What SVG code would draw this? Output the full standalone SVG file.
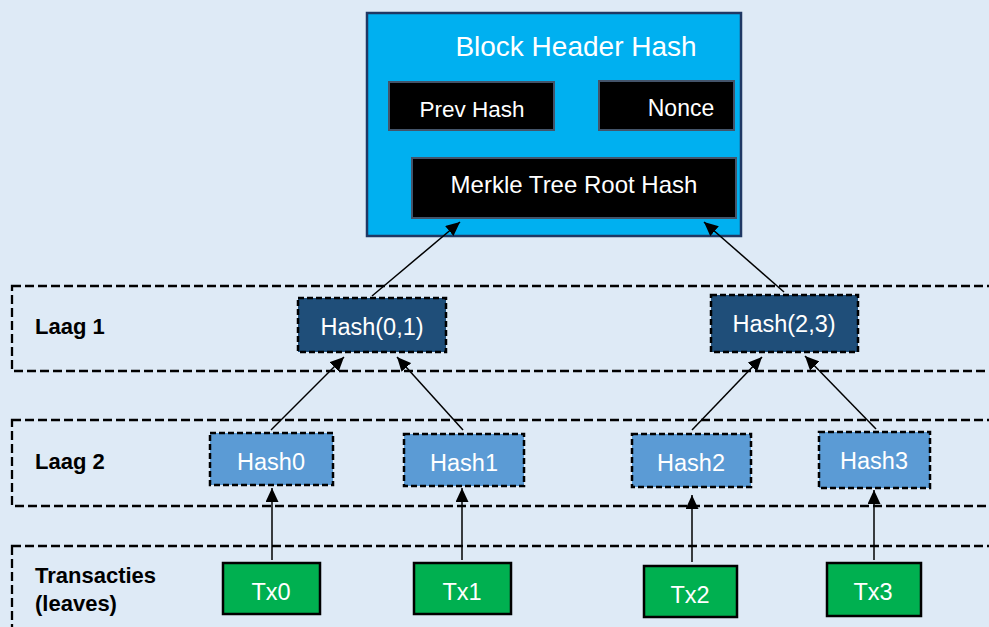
<svg xmlns="http://www.w3.org/2000/svg" width="989" height="627" viewBox="0 0 989 627">
<style>
text{font-family:"Liberation Sans",Arial,sans-serif;text-anchor:middle;fill:#fff;font-size:23.5px}
.lbl{font-weight:bold;fill:#000;text-anchor:start;font-size:22px}
.lane{fill:none;stroke:#000;stroke-width:2.3;stroke-dasharray:9 4}
.inner{fill:#000;stroke:#44546A;stroke-width:2}
.l1{fill:#1F4E79;stroke:#000;stroke-width:2.5;stroke-dasharray:6 3}
.l2{fill:#5B9BD5;stroke:#000;stroke-width:2.5;stroke-dasharray:6 3}
.tx{fill:#00B050;stroke:#000;stroke-width:2.5}
.c line{stroke:#000;stroke-width:1.5;marker-end:url(#ah)}
</style>
<defs>
<marker id="ah" viewBox="0 0 14 13" refX="14" refY="6.5" markerWidth="14" markerHeight="13" markerUnits="userSpaceOnUse" orient="auto">
<path d="M0,0L14,6.5L0,13z" fill="#000"/>
</marker>
</defs>
<rect width="989" height="627" fill="#DEEAF6"/>
<g id="lane-laag1"><rect class="lane" x="12" y="286" width="990" height="85"/><text class="lbl" x="35" y="334">Laag 1</text></g>
<g id="lane-laag2"><rect class="lane" x="12" y="420" width="990" height="86"/><text class="lbl" x="35" y="469">Laag 2</text></g>
<g id="lane-tx"><rect class="lane" x="12" y="546" width="990" height="100"/><text class="lbl" x="35" y="583">Transacties</text><text class="lbl" x="35" y="611">(leaves)</text></g>
<g id="block-header">
<rect x="367" y="13" width="374" height="223" fill="#00B0F0" stroke="#1F3864" stroke-width="2.5"/>
<text x="576" y="56" style="font-size:28px">Block Header Hash</text>
</g>
<g id="prev-hash"><rect class="inner" x="389" y="82" width="165" height="48"/><text x="472" y="117" style="font-size:22.5px">Prev Hash</text></g>
<g id="nonce"><rect class="inner" x="599" y="81" width="135" height="49"/><text x="681" y="116" style="font-size:23px">Nonce</text></g>
<g id="merkle-root"><rect class="inner" x="412" y="158" width="324" height="60"/><text x="574" y="193" style="font-size:24px">Merkle Tree Root Hash</text></g>
<g id="hash01"><rect class="l1" x="298" y="298" width="148" height="54"/><text x="372" y="335">Hash(0,1)</text></g>
<g id="hash23"><rect class="l1" x="711" y="295" width="147" height="57"/><text x="784" y="332">Hash(2,3)</text></g>
<g id="hash0"><rect class="l2" x="210" y="433" width="123" height="52"/><text x="271" y="470">Hash0</text></g>
<g id="hash1"><rect class="l2" x="404" y="434" width="120" height="52"/><text x="464" y="471">Hash1</text></g>
<g id="hash2"><rect class="l2" x="632" y="434" width="119" height="53"/><text x="691" y="471">Hash2</text></g>
<g id="hash3"><rect class="l2" x="819" y="432" width="111" height="56"/><text x="874" y="469">Hash3</text></g>
<g id="tx0"><rect class="tx" x="223" y="563" width="97" height="51"/><text x="271" y="600">Tx0</text></g>
<g id="tx1"><rect class="tx" x="414" y="563" width="97" height="51"/><text x="462" y="600">Tx1</text></g>
<g id="tx2"><rect class="tx" x="644" y="566" width="93" height="51"/><text x="690" y="603">Tx2</text></g>
<g id="tx3"><rect class="tx" x="827" y="563" width="94" height="53"/><text x="873" y="600">Tx3</text></g>
<g id="connectors" class="c">
<line x1="272" y1="560" x2="272" y2="488"/>
<line x1="462" y1="560" x2="462" y2="488"/>
<line x1="692" y1="562" x2="692" y2="495"/>
<line x1="874" y1="560" x2="874" y2="490"/>
<line x1="271" y1="430" x2="344" y2="357"/>
<line x1="463" y1="430" x2="397" y2="357"/>
<line x1="692" y1="430" x2="762" y2="357"/>
<line x1="876" y1="429" x2="805" y2="356"/>
<line x1="372" y1="296" x2="460" y2="222"/>
<line x1="784" y1="292" x2="704" y2="222"/>
</g>
</svg>
